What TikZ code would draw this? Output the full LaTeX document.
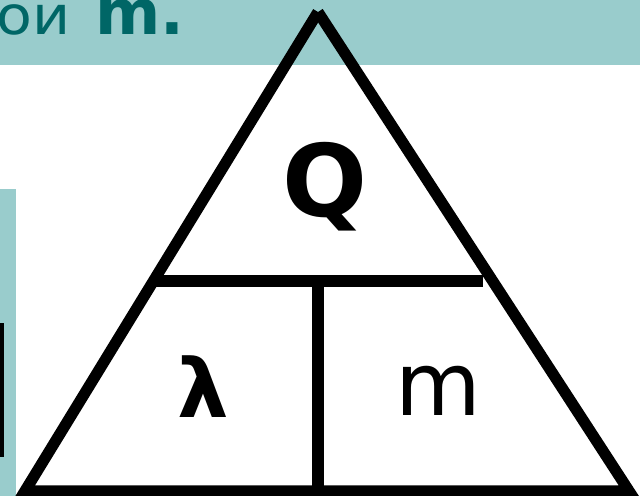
\documentclass[tikz,border=0pt]{standalone}
\usepackage{fontspec}
\setmainfont{DejaVu Sans}
\usepackage{xcolor}
\definecolor{bandteal}{HTML}{99CCCC}
\definecolor{inkteal}{HTML}{006666}

\begin{document}
\begin{tikzpicture}[
      x=0.75pt, y=-0.75pt,
      side/.style={draw, line width=8.4pt, line cap=butt, line join=miter},
      letter/.style={inner sep=0pt, anchor=base}
    ]
      \useasboundingbox (0,0) rectangle (640,496);
      % slide background pieces
      \fill[bandteal] (0,0) rectangle (640,65);
      \fill[bandteal] (0,189) rectangle (16,496);
      \fill[black] (0,323) rectangle (3.5,457);
      \node[letter, anchor=base west, text=inkteal] (caption) at (-4,35)
        {\fontsize{40}{44}\selectfont\scalebox{1.1}[1]{ои}\hspace{19pt}%
         \textbf{\fontsize{47}{50}\selectfont m.}};
      % triangle
      \coordinate (apex) at (318,12);
      \coordinate (left) at (25,491);
      \coordinate (right) at (629,491);
      \coordinate (barL) at (153,281);
      \coordinate (barR) at (483,281);
      \coordinate (midT) at (318,281);
      \coordinate (midB) at (318,491);
      \draw[side] (apex) -- (left) -- (right) -- (apex);
      \draw[side] (barL) -- (barR);
      \draw[side] (midT) -- (midB);
      % quantities
      \node[letter] (heat) at (325,216) {\fontsize{75}{80}\selectfont\bfseries Q};
      \node[letter] (lambda) at (203,417) {\fontsize{61}{66}\selectfont\bfseries λ};
      \node[letter] (mass) at (438,415) {\fontsize{66}{70}\selectfont m};
\end{tikzpicture}
\end{document}
